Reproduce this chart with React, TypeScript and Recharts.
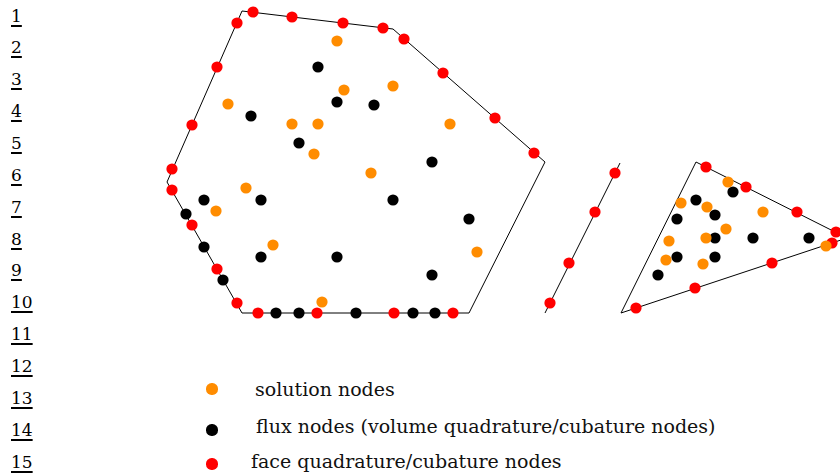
import { ScatterChart, Scatter, XAxis, YAxis } from 'recharts'

// element outlines (closed paths), in picture coordinates
const hexagonEdges = [
  { x: 242, y: 11 }, { x: 393, y: 29 }, { x: 545, y: 162 }, { x: 469, y: 313 },
  { x: 242, y: 313 }, { x: 167, y: 182 }, { x: 242, y: 11 },
]
const faceEdge = [{ x: 620, y: 163 }, { x: 545, y: 313 }]
const triangleEdges = [
  { x: 696, y: 162 }, { x: 847, y: 238 }, { x: 621, y: 313 }, { x: 696, y: 162 },
]

const solutionNodes = [
  { x: 337, y: 41 }, { x: 344, y: 90 }, { x: 393, y: 86 }, { x: 228, y: 104 },
  { x: 292, y: 124 }, { x: 318, y: 124 }, { x: 450, y: 124 }, { x: 314, y: 154 },
  { x: 371, y: 173 }, { x: 246, y: 188 }, { x: 216, y: 211 }, { x: 273, y: 245 },
  { x: 477, y: 252 }, { x: 322, y: 302 },
  { x: 728, y: 182 }, { x: 681, y: 203 }, { x: 707, y: 207 }, { x: 763, y: 212 },
  { x: 726, y: 229 }, { x: 669, y: 241 }, { x: 706, y: 238 }, { x: 826, y: 246 },
  { x: 666, y: 260 }, { x: 703, y: 264 },
]

const fluxNodes = [
  { x: 318, y: 67 }, { x: 337, y: 102 }, { x: 374, y: 105 }, { x: 251, y: 116 },
  { x: 299, y: 143 }, { x: 432, y: 162 }, { x: 204, y: 200 }, { x: 261, y: 200 },
  { x: 393, y: 200 }, { x: 186, y: 214 }, { x: 469, y: 219 }, { x: 204, y: 247 },
  { x: 261, y: 257 }, { x: 337, y: 257 }, { x: 432, y: 275 }, { x: 223, y: 280 },
  { x: 276, y: 313 }, { x: 299, y: 313 }, { x: 356, y: 313 }, { x: 413, y: 313 },
  { x: 435, y: 313 },
  { x: 696, y: 200 }, { x: 733, y: 192 }, { x: 715, y: 215 }, { x: 677, y: 219 },
  { x: 715, y: 238 }, { x: 753, y: 238 }, { x: 809, y: 238 }, { x: 677, y: 257 },
  { x: 715, y: 257 }, { x: 658, y: 275 },
]

const faceNodes = [
  { x: 253, y: 12 }, { x: 237, y: 23 }, { x: 292, y: 17 }, { x: 343, y: 23 },
  { x: 383, y: 28 }, { x: 404, y: 39 }, { x: 443, y: 73 }, { x: 495, y: 118 },
  { x: 534, y: 153 }, { x: 217, y: 67 }, { x: 192, y: 125 }, { x: 172, y: 169 },
  { x: 172, y: 190 }, { x: 192, y: 225 }, { x: 217, y: 269 }, { x: 237, y: 303 },
  { x: 258, y: 313 }, { x: 317, y: 313 }, { x: 394, y: 313 }, { x: 453, y: 313 },
  { x: 615, y: 173 }, { x: 595, y: 212 }, { x: 569, y: 263 }, { x: 550, y: 303 },
  { x: 706, y: 167 }, { x: 746, y: 187 }, { x: 797, y: 212 }, { x: 836, y: 232 },
  { x: 832, y: 243 }, { x: 772, y: 263 }, { x: 695, y: 288 }, { x: 636, y: 308 },
]

const lineNumbers = ['1', '2', '3', '4', '5', '6', '7', '8', '9', '10', '11', '12', '13', '14', '15']

const legendItems = [
  { label: 'solution nodes', color: '#ff8c00', dotY: 389, textX: 255, baseline: 396 },
  { label: 'flux nodes (volume quadrature/cubature nodes)', color: '#000000', dotY: 430, textX: 256, baseline: 433 },
  { label: 'face quadrature/cubature nodes', color: '#ff0000', dotY: 464, textX: 251, baseline: 468 },
]

const serif = '"DejaVu Serif", "Liberation Serif", serif'
const NUM_FS = 17
const LEG_FS = 19

const dot = (color: string) => (p: any) => <circle cx={p.cx} cy={p.cy} r={5.6} fill={color} />
const noDot = () => <g />

export default function App() {
  return (
    <div style={{ position: 'absolute', left: 0, top: 0, width: 840, height: 475, background: '#fff', overflow: 'hidden' }}>
      <ScatterChart width={840} height={475} margin={{ top: 0, right: 0, bottom: 0, left: 0 }}>
        <XAxis type="number" dataKey="x" domain={[0, 840]} hide allowDataOverflow />
        <YAxis type="number" dataKey="y" domain={[0, 475]} reversed hide allowDataOverflow />
        <Scatter data={hexagonEdges} line={{ stroke: '#000', strokeWidth: 1 }} shape={noDot} isAnimationActive={false} />
        <Scatter data={faceEdge} line={{ stroke: '#000', strokeWidth: 1 }} shape={noDot} isAnimationActive={false} />
        <Scatter data={triangleEdges} line={{ stroke: '#000', strokeWidth: 1 }} shape={noDot} isAnimationActive={false} />
        <Scatter data={fluxNodes} shape={dot('#000000')} isAnimationActive={false} />
        <Scatter data={faceNodes} shape={dot('#ff0000')} isAnimationActive={false} />
        <Scatter data={solutionNodes} shape={dot('#ff8c00')} isAnimationActive={false} />
      </ScatterChart>

      {lineNumbers.map((n, i) => (
        <div
          key={n}
          style={{
            position: 'absolute', left: 11, top: 22 + i * 31.86 - 0.846 * NUM_FS, lineHeight: `${NUM_FS}px`,
            fontFamily: serif, fontSize: NUM_FS, textDecoration: 'underline', textDecorationThickness: 1.8,
            textUnderlineOffset: 3,
          }}
        >
          {n}
        </div>
      ))}

      {legendItems.map((it) => (
        <div key={it.label}>
          <div
            style={{
              position: 'absolute', left: 212 - 5.6, top: it.dotY - 5.6, width: 11.2, height: 11.2,
              borderRadius: '50%', background: it.color,
            }}
          />
          <div
            style={{
              position: 'absolute', left: it.textX, top: it.baseline - 0.846 * LEG_FS, lineHeight: `${LEG_FS}px`,
              fontFamily: serif, fontSize: LEG_FS, whiteSpace: 'nowrap', color: '#111',
            }}
          >
            {it.label}
          </div>
        </div>
      ))}
    </div>
  )
}
